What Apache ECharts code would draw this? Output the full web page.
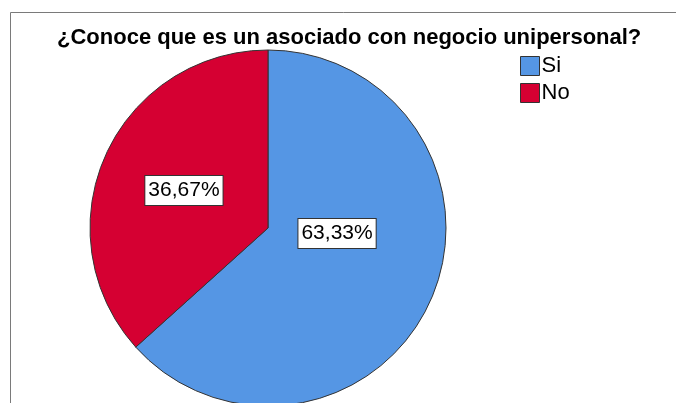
<!DOCTYPE html>
<html><head><meta charset="utf-8">
<script src="https://cdn.jsdelivr.net/npm/echarts@6/dist/echarts.min.js"></script>
<style>html,body{margin:0;padding:0;background:#fff}#c{width:676px;height:403px}</style>
</head><body><div id="c"></div>
<script>
const titleText = '¿Conoce que es un asociado con negocio unipersonal?';
const categories = ['Si', 'No'];
const values = [63.33, 36.67];
const labelTexts = ['63,33%', '36,67%'];
const colors = ['#5596E4', '#D50032'];
const labelOffsets = [[-15, -32], [0, 0]];

const chart = echarts.init(document.getElementById('c'), null, {renderer: 'canvas'});
chart.setOption({
  animation: false,
  title: {
    text: titleText, left: 57, top: 27, padding: 0,
    textStyle: {fontFamily: 'Liberation Sans', fontSize: 22, fontWeight: 'bold', color: '#000'}
  },
  legend: {
    orient: 'vertical', left: 520, top: 55, padding: 0, itemWidth: 19, itemHeight: 19, itemGap: 5,
    icon: 'rect',
    itemStyle: {borderColor: '#333', borderWidth: 1},
    textStyle: {fontFamily: 'Liberation Sans', fontSize: 22, color: '#000', padding: [0,0,0,-3]},
    data: categories
  },
  graphic: [
    {type: 'line', shape: {x1: 10.5, y1: 12.5, x2: 676, y2: 12.5}, style: {stroke: '#7a7a7a', lineWidth: 1}},
    {type: 'line', shape: {x1: 10.5, y1: 12.5, x2: 10.5, y2: 403}, style: {stroke: '#7a7a7a', lineWidth: 1}}
  ],
  series: [{
    type: 'pie', center: [268, 228], radius: 178, startAngle: 90, clockwise: true,
    itemStyle: {borderColor: '#333', borderWidth: 1},
    emphasis: {disabled: true},
    labelLine: {show: false},
    data: categories.map((n, i) => ({
      name: n, value: values[i],
      itemStyle: {color: colors[i]},
      label: {
        show: true, position: 'inner', formatter: labelTexts[i], offset: labelOffsets[i],
        fontFamily: 'Liberation Sans', fontSize: 21, lineHeight: 22, color: '#000',
        backgroundColor: '#fff', borderColor: '#333', borderWidth: 1, padding: [4, 3, 3, 3]
      }
    }))
  }]
});
</script></body></html>
